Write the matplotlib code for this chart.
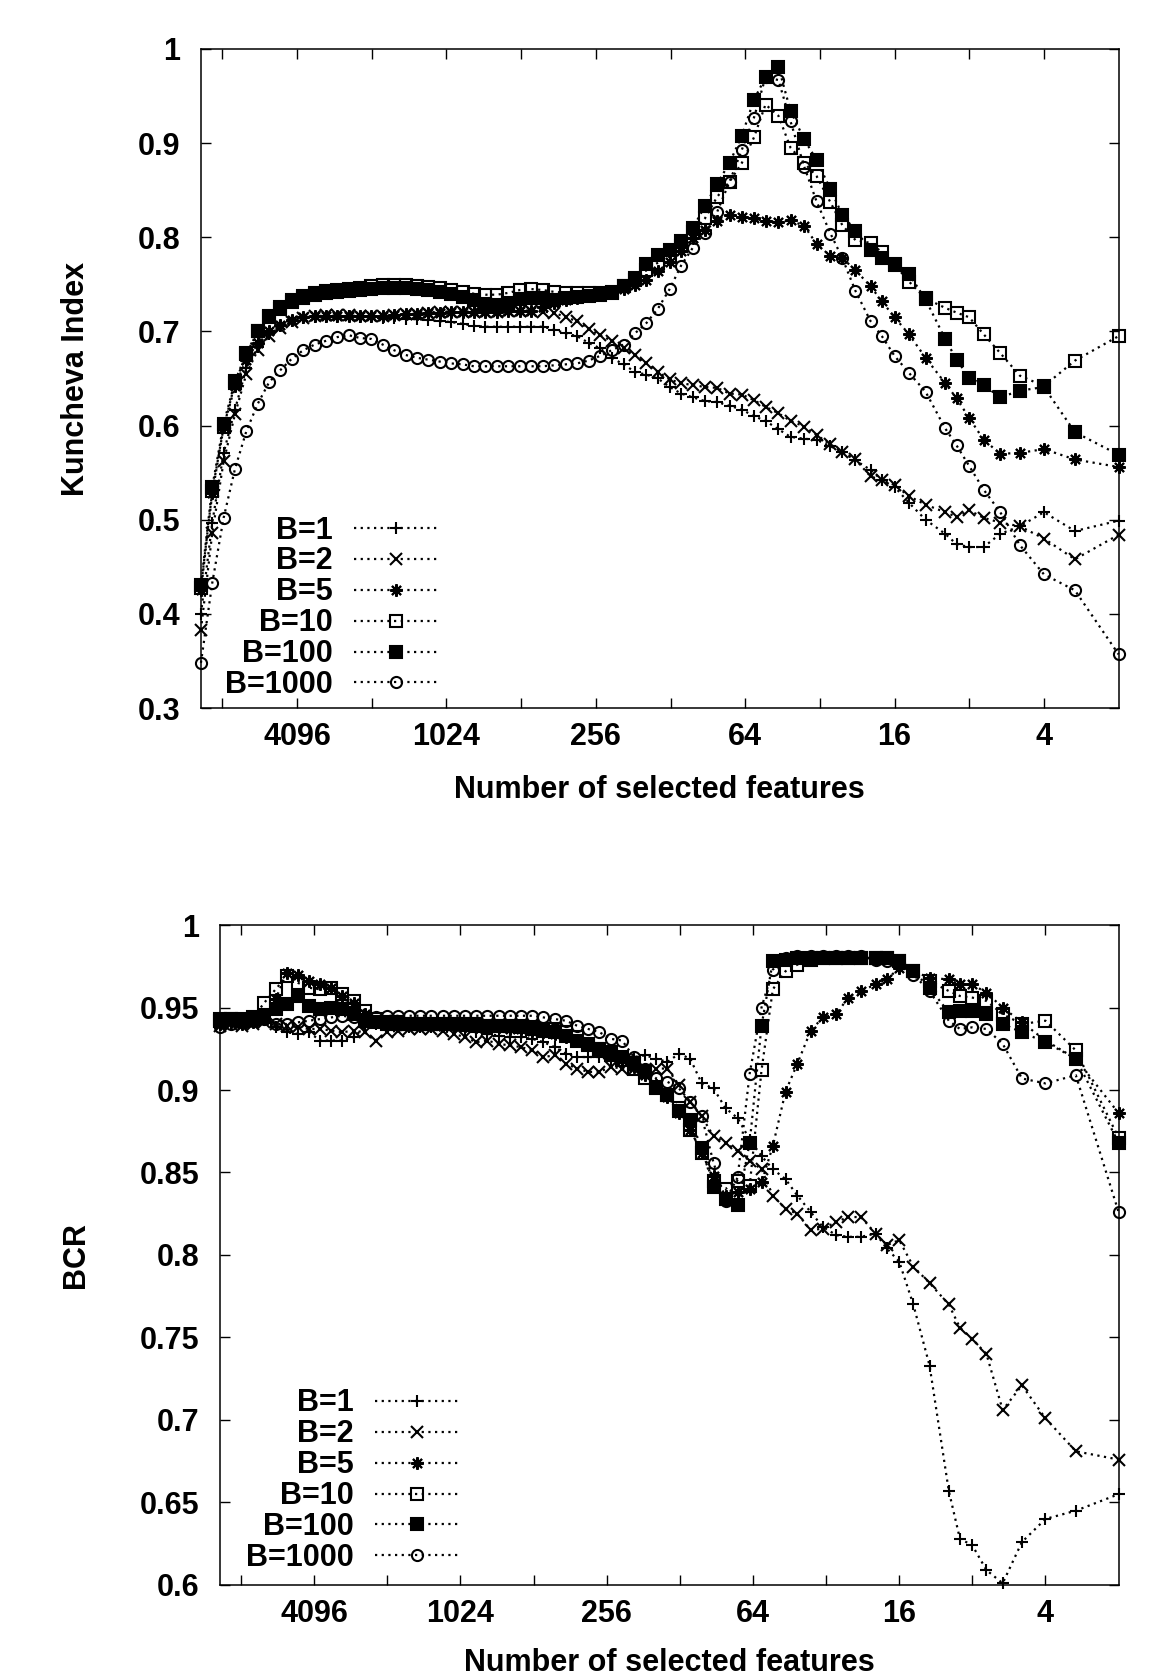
import matplotlib
matplotlib.use('Agg')
import matplotlib.pyplot as plt
from matplotlib.ticker import FixedLocator, FuncFormatter, NullFormatter

plt.rcParams['font.family'] = ['Liberation Sans', 'DejaVu Sans']
plt.rcParams['font.weight'] = 'bold'
plt.rcParams['axes.labelweight'] = 'bold'

# number of selected features at each step (about 10% removed per step)
n_features = [10000, 9000, 8100, 7290, 6561, 5904, 5313, 4781, 4302, 3871, 3483,
              3134, 2820, 2538, 2284, 2055, 1849, 1664, 1497, 1347, 1212,
              1090, 981, 882, 793, 713, 641, 576, 518, 466, 419,
              377, 339, 305, 274, 246, 221, 198, 178, 160, 144,
              129, 116, 104, 93, 83, 74, 66, 59, 53, 47,
              42, 37, 33, 29, 26, 23, 20, 18, 16, 14,
              12, 10, 9, 8, 7, 6, 5, 4, 3, 2]

labels = ['B=1', 'B=2', 'B=5', 'B=10', 'B=100', 'B=1000']

# Kuncheva index
k_b1 = [0.400, 0.497, 0.571, 0.617, 0.661, 0.683, 0.697, 0.706, 0.711, 0.714, 0.715,
        0.715, 0.715, 0.716, 0.715, 0.715, 0.714, 0.714, 0.713, 0.713, 0.712,
        0.711, 0.710, 0.708, 0.706, 0.705, 0.705, 0.705, 0.705, 0.705, 0.705,
        0.702, 0.698, 0.695, 0.688, 0.682, 0.672, 0.665, 0.657, 0.654, 0.650,
        0.641, 0.634, 0.630, 0.626, 0.625, 0.621, 0.617, 0.610, 0.605, 0.596,
        0.588, 0.586, 0.585, 0.578, 0.572, 0.563, 0.553, 0.542, 0.535, 0.518,
        0.500, 0.485, 0.474, 0.471, 0.471, 0.485, 0.493, 0.508, 0.488, 0.499]
k_b2 = [0.383, 0.486, 0.562, 0.612, 0.655, 0.680, 0.695, 0.704, 0.710, 0.714, 0.716,
        0.717, 0.717, 0.717, 0.716, 0.716, 0.716, 0.717, 0.718, 0.719, 0.720,
        0.721, 0.721, 0.721, 0.721, 0.721, 0.721, 0.722, 0.722, 0.722, 0.721,
        0.720, 0.715, 0.711, 0.703, 0.696, 0.690, 0.682, 0.675, 0.666, 0.657,
        0.649, 0.645, 0.643, 0.641, 0.640, 0.634, 0.633, 0.627, 0.620, 0.613,
        0.605, 0.599, 0.590, 0.580, 0.572, 0.564, 0.546, 0.542, 0.537, 0.525,
        0.516, 0.508, 0.503, 0.510, 0.502, 0.497, 0.493, 0.480, 0.458, 0.484]
k_b5 = [0.425, 0.528, 0.598, 0.642, 0.670, 0.688, 0.700, 0.707, 0.712, 0.715, 0.716,
        0.716, 0.716, 0.716, 0.716, 0.716, 0.716, 0.717, 0.718, 0.719, 0.720,
        0.720, 0.721, 0.721, 0.721, 0.721, 0.721, 0.722, 0.722, 0.722, 0.726,
        0.730, 0.733, 0.736, 0.738, 0.740, 0.742, 0.745, 0.749, 0.755, 0.764,
        0.774, 0.785, 0.799, 0.808, 0.817, 0.824, 0.821, 0.820, 0.817, 0.816,
        0.818, 0.812, 0.793, 0.780, 0.778, 0.765, 0.748, 0.732, 0.715, 0.697,
        0.672, 0.645, 0.629, 0.608, 0.585, 0.570, 0.571, 0.575, 0.564, 0.556]
k_b10 = [0.428, 0.530, 0.598, 0.645, 0.676, 0.700, 0.716, 0.726, 0.733, 0.738, 0.741,
         0.743, 0.744, 0.745, 0.746, 0.748, 0.749, 0.749, 0.749, 0.748, 0.747,
         0.746, 0.744, 0.742, 0.740, 0.739, 0.739, 0.741, 0.744, 0.745, 0.744,
         0.742, 0.741, 0.741, 0.741, 0.741, 0.742, 0.748, 0.755, 0.765, 0.773,
         0.780, 0.791, 0.806, 0.820, 0.843, 0.859, 0.879, 0.906, 0.941, 0.929,
         0.895, 0.879, 0.865, 0.837, 0.813, 0.797, 0.794, 0.784, 0.771, 0.753,
         0.735, 0.725, 0.720, 0.715, 0.697, 0.677, 0.653, 0.642, 0.669, 0.695]
k_b100 = [0.431, 0.535, 0.602, 0.647, 0.677, 0.700, 0.715, 0.724, 0.731, 0.736, 0.739,
          0.741, 0.742, 0.743, 0.744, 0.745, 0.746, 0.746, 0.746, 0.745, 0.744,
          0.742, 0.740, 0.737, 0.733, 0.729, 0.728, 0.730, 0.734, 0.736, 0.735,
          0.733, 0.735, 0.737, 0.738, 0.739, 0.741, 0.748, 0.757, 0.772, 0.781,
          0.787, 0.796, 0.810, 0.833, 0.857, 0.879, 0.908, 0.946, 0.970, 0.981,
          0.934, 0.904, 0.882, 0.851, 0.824, 0.807, 0.787, 0.778, 0.772, 0.761,
          0.734, 0.692, 0.670, 0.651, 0.643, 0.630, 0.637, 0.641, 0.593, 0.569]
k_b1000 = [0.348, 0.433, 0.502, 0.554, 0.594, 0.623, 0.646, 0.659, 0.671, 0.680, 0.686,
           0.690, 0.694, 0.696, 0.693, 0.692, 0.686, 0.680, 0.675, 0.672, 0.670,
           0.668, 0.666, 0.665, 0.663, 0.663, 0.663, 0.663, 0.663, 0.663, 0.663,
           0.664, 0.665, 0.666, 0.669, 0.674, 0.680, 0.686, 0.698, 0.709, 0.724,
           0.745, 0.770, 0.789, 0.805, 0.827, 0.859, 0.893, 0.927, 0.970, 0.967,
           0.923, 0.875, 0.838, 0.804, 0.778, 0.743, 0.711, 0.695, 0.674, 0.656,
           0.636, 0.597, 0.579, 0.557, 0.532, 0.508, 0.473, 0.442, 0.425, 0.357]

# balanced classification rate
b_b1 = [0.941, 0.940, 0.941, 0.942, 0.943, 0.938, 0.935, 0.934, 0.935, 0.930, 0.930,
        0.930, 0.932, 0.938, 0.940, 0.939, 0.939, 0.938, 0.938, 0.938, 0.938,
        0.937, 0.936, 0.935, 0.934, 0.933, 0.932, 0.932, 0.931, 0.929, 0.926,
        0.922, 0.920, 0.920, 0.920, 0.918, 0.918, 0.920, 0.921, 0.919, 0.917,
        0.922, 0.919, 0.904, 0.901, 0.889, 0.883, 0.870, 0.860, 0.852, 0.846,
        0.836, 0.826, 0.817, 0.812, 0.811, 0.811, 0.813, 0.804, 0.796, 0.770,
        0.733, 0.657, 0.628, 0.624, 0.609, 0.601, 0.626, 0.640, 0.645, 0.655]
b_b2 = [0.939, 0.940, 0.939, 0.940, 0.941, 0.940, 0.939, 0.938, 0.937, 0.937, 0.936,
        0.935, 0.936, 0.935, 0.930, 0.935, 0.936, 0.937, 0.937, 0.937, 0.936,
        0.934, 0.932, 0.929, 0.930, 0.928, 0.927, 0.926, 0.924, 0.920, 0.921,
        0.916, 0.913, 0.911, 0.911, 0.914, 0.913, 0.913, 0.912, 0.913, 0.913,
        0.903, 0.893, 0.884, 0.872, 0.868, 0.863, 0.857, 0.852, 0.836, 0.828,
        0.825, 0.815, 0.816, 0.820, 0.823, 0.823, 0.813, 0.806, 0.809, 0.793,
        0.783, 0.770, 0.756, 0.749, 0.740, 0.706, 0.721, 0.701, 0.681, 0.676]
b_b5 = [0.940, 0.941, 0.940, 0.941, 0.943, 0.955, 0.971, 0.970, 0.966, 0.964, 0.962,
        0.957, 0.953, 0.946, 0.942, 0.940, 0.940, 0.940, 0.940, 0.940, 0.939,
        0.939, 0.939, 0.938, 0.938, 0.938, 0.937, 0.937, 0.936, 0.935, 0.934,
        0.932, 0.930, 0.927, 0.924, 0.921, 0.918, 0.914, 0.909, 0.903, 0.896,
        0.886, 0.876, 0.862, 0.848, 0.836, 0.838, 0.840, 0.844, 0.866, 0.899,
        0.916, 0.936, 0.944, 0.946, 0.956, 0.960, 0.964, 0.967, 0.974, 0.972,
        0.968, 0.967, 0.964, 0.964, 0.959, 0.950, 0.941, 0.930, 0.919, 0.886]
b_b10 = [0.942, 0.943, 0.942, 0.944, 0.953, 0.961, 0.969, 0.965, 0.962, 0.961, 0.962,
         0.958, 0.954, 0.948, 0.943, 0.941, 0.941, 0.940, 0.940, 0.940, 0.940,
         0.940, 0.940, 0.940, 0.939, 0.939, 0.939, 0.939, 0.938, 0.937, 0.937,
         0.935, 0.932, 0.928, 0.925, 0.921, 0.918, 0.913, 0.907, 0.902, 0.897,
         0.889, 0.876, 0.862, 0.845, 0.840, 0.845, 0.842, 0.912, 0.961, 0.972,
         0.976, 0.979, 0.980, 0.980, 0.980, 0.980, 0.980, 0.980, 0.978, 0.972,
         0.966, 0.960, 0.957, 0.956, 0.954, 0.946, 0.940, 0.942, 0.924, 0.871]
b_b100 = [0.943, 0.943, 0.943, 0.943, 0.944, 0.949, 0.952, 0.957, 0.951, 0.949, 0.950,
          0.949, 0.946, 0.942, 0.941, 0.940, 0.940, 0.940, 0.940, 0.940, 0.940,
          0.940, 0.940, 0.940, 0.939, 0.939, 0.939, 0.938, 0.937, 0.936, 0.935,
          0.933, 0.930, 0.927, 0.925, 0.923, 0.920, 0.916, 0.911, 0.901, 0.897,
          0.887, 0.882, 0.865, 0.841, 0.834, 0.830, 0.868, 0.939, 0.978, 0.979,
          0.980, 0.980, 0.980, 0.980, 0.980, 0.980, 0.980, 0.980, 0.978, 0.972,
          0.962, 0.947, 0.948, 0.948, 0.946, 0.940, 0.935, 0.929, 0.919, 0.868]
b_b1000 = [0.938, 0.940, 0.941, 0.942, 0.943, 0.940, 0.940, 0.941, 0.942, 0.943, 0.944,
           0.945, 0.944, 0.942, 0.944, 0.945, 0.945, 0.945, 0.945, 0.945, 0.945,
           0.945, 0.945, 0.945, 0.945, 0.945, 0.945, 0.945, 0.945, 0.944, 0.943,
           0.942, 0.939, 0.937, 0.935, 0.931, 0.930, 0.920, 0.913, 0.907, 0.905,
           0.901, 0.893, 0.884, 0.856, 0.833, 0.847, 0.910, 0.950, 0.973, 0.980,
           0.981, 0.981, 0.981, 0.981, 0.981, 0.981, 0.979, 0.978, 0.977, 0.970,
           0.960, 0.942, 0.937, 0.938, 0.937, 0.928, 0.907, 0.904, 0.909, 0.826]

x_major = [4096, 1024, 256, 64, 16, 4]
x_minor = [8192, 2048, 512, 128, 32, 8]
kuncheva_ticks = [0.3, 0.4, 0.5, 0.6, 0.7, 0.8, 0.9, 1.0]
bcr_ticks = [0.6, 0.65, 0.7, 0.75, 0.8, 0.85, 0.9, 0.95, 1.0]

# gnuplot-ish point types
styles = [
    dict(marker='+', ms=9, mfc='black'),
    dict(marker='x', ms=8, mfc='black'),
    dict(marker=(8, 2, 0), ms=9, mfc='black'),
    dict(marker='s', ms=8, mfc='none'),
    dict(marker='s', ms=8, mfc='black'),
    dict(marker='o', ms=8, mfc='none'),
]

FS = 22


def draw_panel(ax, series, ylim, yticks, ylabel, ylabel_x, xlabel_y, leg_anchor):
    for vals, lab, st in zip(series, labels, styles):
        ax.plot(n_features, vals, color='black', ls=(0, (1, 2)), lw=1.6,
                mec='black', mew=1.5, label=lab, clip_on=False, **st)

    ax.set_xscale('log', base=2)
    ax.set_xlim(10000, 2)
    ax.set_ylim(*ylim)
    ax.xaxis.set_major_locator(FixedLocator(x_major))
    ax.xaxis.set_minor_locator(FixedLocator(x_minor))
    ax.xaxis.set_major_formatter(FuncFormatter(lambda v, p: '%d' % v))
    ax.xaxis.set_minor_formatter(NullFormatter())
    ax.yaxis.set_major_locator(FixedLocator(yticks))
    ax.yaxis.set_major_formatter(FuncFormatter(lambda v, p: '%g' % round(v, 2)))

    ax.tick_params(which='both', direction='in', top=True, right=True,
                   length=7, width=1.0, labelsize=FS)
    ax.tick_params(axis='x', which='both', pad=10)
    ax.tick_params(axis='y', which='both', pad=15)
    for lbl in ax.get_xticklabels() + ax.get_yticklabels():
        lbl.set_fontweight('bold')
    for sp in ax.spines.values():
        sp.set_linewidth(1.1)

    ax.set_xlabel('Number of selected features', fontsize=FS, fontweight='bold')
    ax.set_ylabel(ylabel, fontsize=FS, fontweight='bold')
    ax.xaxis.set_label_coords(0.5, xlabel_y)
    ax.yaxis.set_label_coords(ylabel_x, 0.5)

    leg = ax.legend(loc='lower right', bbox_to_anchor=leg_anchor, frameon=False,
                    markerfirst=False, numpoints=1, handlelength=2.75,
                    handletextpad=0.7, labelspacing=0.03, borderpad=0,
                    borderaxespad=0, prop={'size': FS, 'weight': 'bold'})
    return leg


fig = plt.figure(figsize=(11.75, 16.77), dpi=100)
ax1 = fig.add_axes([0.171, 0.5778, 0.781, 0.3930])
ax2 = fig.add_axes([0.1872, 0.0549, 0.7648, 0.3935])

draw_panel(ax1, [k_b1, k_b2, k_b5, k_b10, k_b100, k_b1000], (0.3, 1.0),
           kuncheva_ticks, 'Kuncheva Index', -0.120, -0.102, (0.2585, 0.012))
draw_panel(ax2, [b_b1, b_b2, b_b5, b_b10, b_b100, b_b1000], (0.6, 1.0),
           bcr_ticks, 'BCR', -0.144, -0.095, (0.266, 0.018))

fig.savefig('out.png', dpi=100)
